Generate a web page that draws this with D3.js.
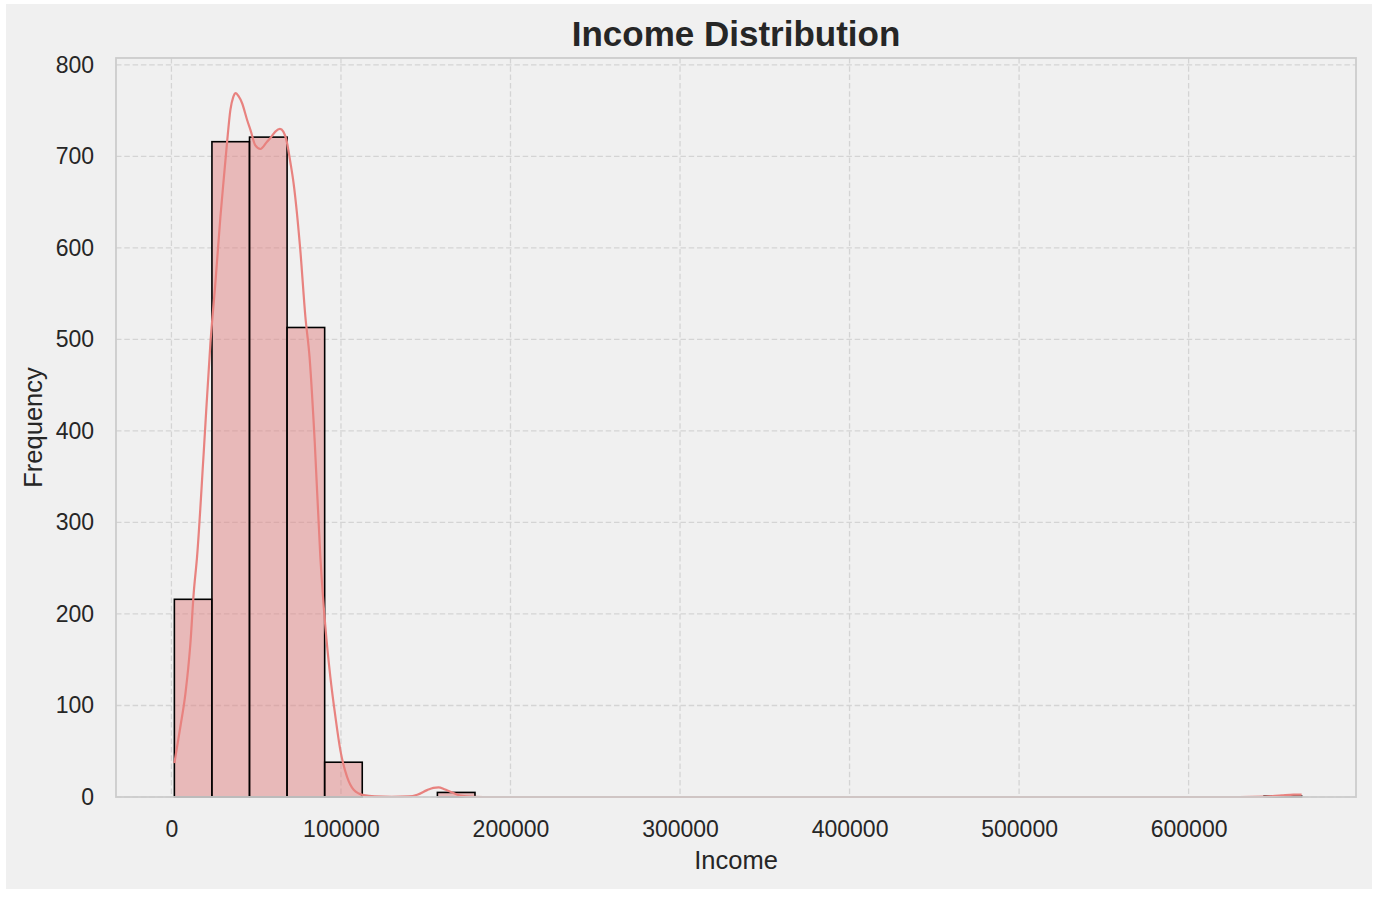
<!DOCTYPE html>
<html>
<head>
<meta charset="utf-8">
<script src="https://cdn.jsdelivr.net/npm/d3@7/dist/d3.min.js"></script>
<style>
  html, body { margin: 0; padding: 0; background: #ffffff; }
  svg { display: block; font-family: "Liberation Sans", Arial, Helvetica, sans-serif; }
</style>
</head>
<body>
<svg id="chart" width="1382" height="900"></svg>
<script>
// ---- data ----
const incomeMin = 1730;
const incomeMax = 666666;
const binCounts = [216, 716, 721, 513, 38, 0, 0, 5, 0, 0,
                   0, 0, 0, 0, 0, 0, 0, 0, 0, 0,
                   0, 0, 0, 0, 0, 0, 0, 0, 0, 1];
const kdeIncome = [1730, 5300, 8250, 11200, 13150, 15100, 19000, 23000, 25940, 28900,
                   30850, 32800, 34800, 36500, 38000, 39500, 41700, 44600, 46600, 49500,
                   52500, 56400, 58400, 61300, 64000, 66000, 67800, 70200, 72100, 76000,
                   79000, 81500, 84500, 87850, 90800, 93750, 96700, 99650, 103600, 107500,
                   113400, 120000, 130000, 140000, 145000, 150800, 154500, 157600, 161000, 164500,
                   170400, 178000, 190000, 300000, 450000, 630000, 645000, 655000, 662000, 666666];
const kdeFreq   = [37, 77, 113, 168, 223, 262, 375, 496, 562, 634,
                   675, 715, 751, 765, 769, 766, 758, 740, 729, 712,
                   708, 716, 720, 727, 730, 727, 718, 693, 670, 598,
                   525, 480, 389, 262, 186, 131, 88, 51, 22, 8,
                   2, 0.6, 0.3, 0.6, 2.5, 7.5, 10, 10.6, 8.5, 5.8,
                   1.5, 0.3, 0, 0, 0, 0, 0.4, 1.8, 2.6, 2.7];
const xTicks = [0, 100000, 200000, 300000, 400000, 500000, 600000];
const yTicks = [0, 100, 200, 300, 400, 500, 600, 700, 800];

// ---- layout ----
const svg = d3.select("#chart");
const fig = { x: 6, y: 4, w: 1366, h: 885 };
const plot = { left: 116, top: 58, right: 1356, bottom: 797 };

svg.append("rect").attr("x", fig.x).attr("y", fig.y).attr("width", fig.w).attr("height", fig.h)
  .attr("fill", "#f0f0f0");

const range = incomeMax - incomeMin;
const x = d3.scaleLinear()
  .domain([incomeMin - 0.05 * range, incomeMax + 0.05 * range])
  .range([plot.left + 2, plot.right + 2]);
const yMax = d3.max(kdeFreq.concat(binCounts)) * 1.05;
const y = d3.scaleLinear().domain([0, yMax]).range([plot.bottom, plot.top]);

// grid
const grid = svg.append("g");
grid.selectAll("line.gx").data(xTicks).join("line")
  .attr("x1", d => x(d)).attr("x2", d => x(d))
  .attr("y1", plot.top).attr("y2", plot.bottom)
  .attr("stroke", "#d4d4d4").attr("stroke-width", 1.3).attr("stroke-dasharray", "5.5,2.8");
grid.selectAll("line.gy").data(yTicks).join("line")
  .attr("x1", plot.left).attr("x2", plot.right)
  .attr("y1", d => y(d)).attr("y2", d => y(d))
  .attr("stroke", "#d4d4d4").attr("stroke-width", 1.3).attr("stroke-dasharray", "5.5,2.8");

// bars
const binW = range / binCounts.length;
const bins = binCounts.map((c, i) => ({ x0: incomeMin + i * binW, x1: incomeMin + (i + 1) * binW, c }))
  .filter(b => b.c > 0);
svg.append("g").selectAll("rect").data(bins).join("rect")
  .attr("x", d => x(d.x0)).attr("width", d => x(d.x1) - x(d.x0))
  .attr("y", d => y(d.c)).attr("height", d => y(0) - y(d.c))
  .attr("fill", "#e08282").attr("fill-opacity", 0.5)
  .attr("stroke", "#000").attr("stroke-width", 1.6);

// kde line
const kdePts = kdeIncome.map((v, i) => [v, kdeFreq[i]]);
svg.append("path").datum(kdePts)
  .attr("d", d3.line().x(d => x(d[0])).y(d => y(d[1])).curve(d3.curveMonotoneX))
  .attr("fill", "none").attr("stroke", "#e8827f").attr("stroke-width", 2.2);

// frame
svg.append("rect").attr("x", plot.left).attr("y", plot.top)
  .attr("width", plot.right - plot.left).attr("height", plot.bottom - plot.top)
  .attr("fill", "none").attr("stroke", "#cccccc").attr("stroke-width", 1.8);

// axes (labels only, no tick marks)
const xAxis = d3.axisBottom(x).tickValues(xTicks).tickFormat(d3.format("d")).tickSize(0).tickPadding(24);
const gx = svg.append("g").attr("transform", `translate(0,${plot.bottom})`).call(xAxis);
gx.select(".domain").remove();
gx.selectAll("text").attr("font-size", 23).attr("fill", "#262626")
  .attr("font-family", '"Liberation Sans", Arial, sans-serif');

const yAxis = d3.axisLeft(y).tickValues(yTicks).tickFormat(d3.format("d")).tickSize(0).tickPadding(22);
const gy = svg.append("g").attr("transform", `translate(${plot.left},0)`).call(yAxis);
gy.select(".domain").remove();
gy.selectAll("text").attr("font-size", 23).attr("fill", "#262626")
  .attr("font-family", '"Liberation Sans", Arial, sans-serif');

// title & labels
svg.append("text").attr("x", (plot.left + plot.right) / 2).attr("y", 46)
  .attr("text-anchor", "middle").attr("font-size", 35).attr("font-weight", "bold")
  .attr("fill", "#262626").text("Income Distribution");
svg.append("text").attr("x", (plot.left + plot.right) / 2).attr("y", 869)
  .attr("text-anchor", "middle").attr("font-size", 25.5)
  .attr("fill", "#262626").text("Income");
svg.append("text").attr("transform", `translate(42,${(plot.top + plot.bottom) / 2}) rotate(-90)`)
  .attr("text-anchor", "middle").attr("font-size", 25.5)
  .attr("fill", "#262626").text("Frequency");
</script>
</body>
</html>
